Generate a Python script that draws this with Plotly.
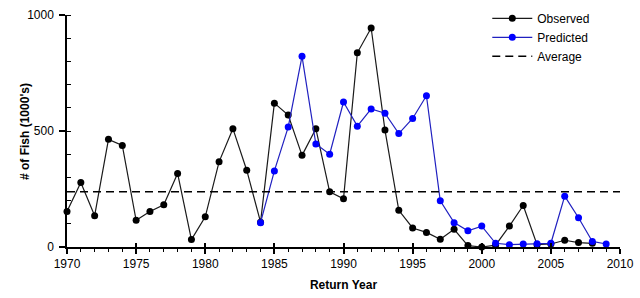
import plotly.graph_objects as go

years_obs = list(range(1970, 2009))
observed = [153, 278, 135, 464, 438, 115, 153, 182, 317, 32,
            130, 367, 510, 331, 107, 620, 569, 395, 510, 238,
            208, 837, 944, 504, 158, 82, 63, 33, 76, 6,
            0, 8, 90, 179, 10, 13, 29, 19, 16]

years_pred = list(range(1984, 2010))
predicted = [105, 328, 517, 822, 444, 400, 625, 521, 595, 577,
             489, 554, 652, 199, 105, 70, 90, 16, 10, 13,
             14, 16, 219, 126, 24, 13]

avg_years = [1970, 2010]
average = [238, 238]

font = "Liberation Sans, Arial, sans-serif"

fig = go.Figure()
fig.add_trace(go.Scatter(x=years_obs, y=observed, name="Observed", mode="lines+markers",
                         line=dict(color="#1a1a1a", width=1.2),
                         marker=dict(color="black", size=7), cliponaxis=False))
fig.add_trace(go.Scatter(x=years_pred, y=predicted, name="Predicted", mode="lines+markers",
                         line=dict(color="#2020c0", width=1.2),
                         marker=dict(color="#0000ff", size=7), cliponaxis=False))
fig.add_trace(go.Scatter(x=avg_years, y=average, name="Average", mode="lines",
                         line=dict(color="black", width=1.5, dash="8px,5px")))
# invisible trace for crossing major ticks axis
fig.add_trace(go.Scatter(x=avg_years, y=average, xaxis="x2", mode="lines",
                         line=dict(width=0), showlegend=False, hoverinfo="skip", opacity=0))

fig.update_layout(
    width=640, height=298,
    margin=dict(l=67, r=20, t=15, b=51, autoexpand=False),
    paper_bgcolor="white", plot_bgcolor="white",
    font=dict(family=font, size=12, color="black"),
    showlegend=True,
    legend=dict(x=0.76, y=1.048, xanchor="left", yanchor="top",
                bgcolor="rgba(0,0,0,0)", font=dict(size=12),
                tracegroupgap=0, itemwidth=40),
    xaxis=dict(range=[1970, 2010], tickvals=list(range(1970, 2011, 5)),
               showline=True, linecolor="black", linewidth=1.5,
               ticks="outside", ticklen=5, tickwidth=1.5, tickcolor="black",
               minor=dict(ticks="outside", ticklen=3, tickwidth=1, tickcolor="black", dtick=1),
               showgrid=False, zeroline=False, automargin=False,
               title=dict(text="<b>Return Year</b>", standoff=10, font=dict(size=12))),
    xaxis2=dict(range=[1970, 2010], overlaying="x", anchor="y",
                tickvals=list(range(1970, 2011, 5)), ticks="inside", ticklen=4,
                tickwidth=1.5, tickcolor="black", showticklabels=False,
                showline=False, showgrid=False, zeroline=False, side="bottom"),
    yaxis=dict(range=[0, 1000], tickvals=[0, 500, 1000],
               showline=True, linecolor="black", linewidth=1.5,
               ticks="outside", ticklen=6, tickwidth=1.5, tickcolor="black",
               ticklabelstandoff=3,
               minor=dict(ticks="inside", ticklen=4, tickwidth=1, tickcolor="black", dtick=100),
               showgrid=False, zeroline=False, automargin=False),
    annotations=[dict(text="<b># of Fish (1000's)</b>", textangle=-90,
                      xref="paper", yref="paper", x=-0.076, y=0.5,
                      xanchor="center", yanchor="middle", showarrow=False,
                      font=dict(size=12, family=font))],
)

fig.write_html("out.html")
